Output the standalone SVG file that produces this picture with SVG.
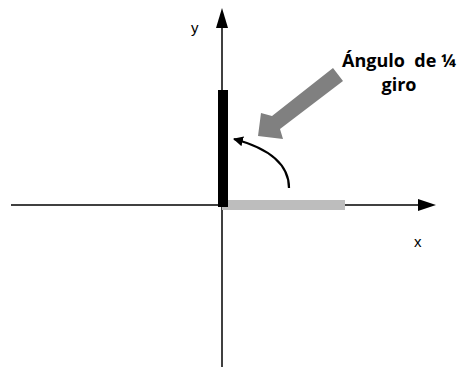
<svg xmlns="http://www.w3.org/2000/svg" width="462" height="367" viewBox="0 0 462 367">
<style>
.axis{stroke:#000;stroke-width:1.5;fill:none}
.lbl{font-family:"Liberation Sans",Arial,sans-serif;font-size:15px;fill:#000}
.title{font-family:"Open Sans","Noto Sans",sans-serif;font-weight:bold;font-size:18px;fill:#000}
</style>
<defs>
<marker id="ah" markerWidth="10" markerHeight="10" refX="9" refY="5" orient="auto" markerUnits="userSpaceOnUse">
<path d="M0,0 L10,5 L0,10 Z" fill="#000"/>
</marker>
</defs>
<rect width="462" height="367" fill="#fff"/>
<g id="connectors">
<line class="axis" x1="11" y1="205" x2="420" y2="205"/>
<polygon points="436,205 418,199 418,211" fill="#000"/>
<line class="axis" x1="222" y1="367" x2="222" y2="26"/>
<polygon points="222,8 216,28 228,28" fill="#000"/>
<path d="M289,188 C289,168 275,150 234,139" stroke="#000" stroke-width="2.2" fill="none" marker-end="url(#ah)"/>
<polygon points="333,68 343,81 280,129 283,139 258,136 261,113 272,116" fill="#808080"/>
</g>
<g id="bar-gray"><rect x="222" y="200" width="123" height="10" fill="#bdbdbd"/></g>
<g id="bar-black"><rect x="218" y="90" width="10" height="117" fill="#000"/></g>
<g id="label-y"><text class="lbl" x="191" y="33">y</text></g>
<g id="label-x"><text class="lbl" x="414" y="247">x</text></g>
<g id="title"><text class="title" text-anchor="middle"><tspan x="399" y="67" xml:space="preserve">Ángulo  de ¼</tspan><tspan x="399" y="91">giro</tspan></text></g>
</svg>
